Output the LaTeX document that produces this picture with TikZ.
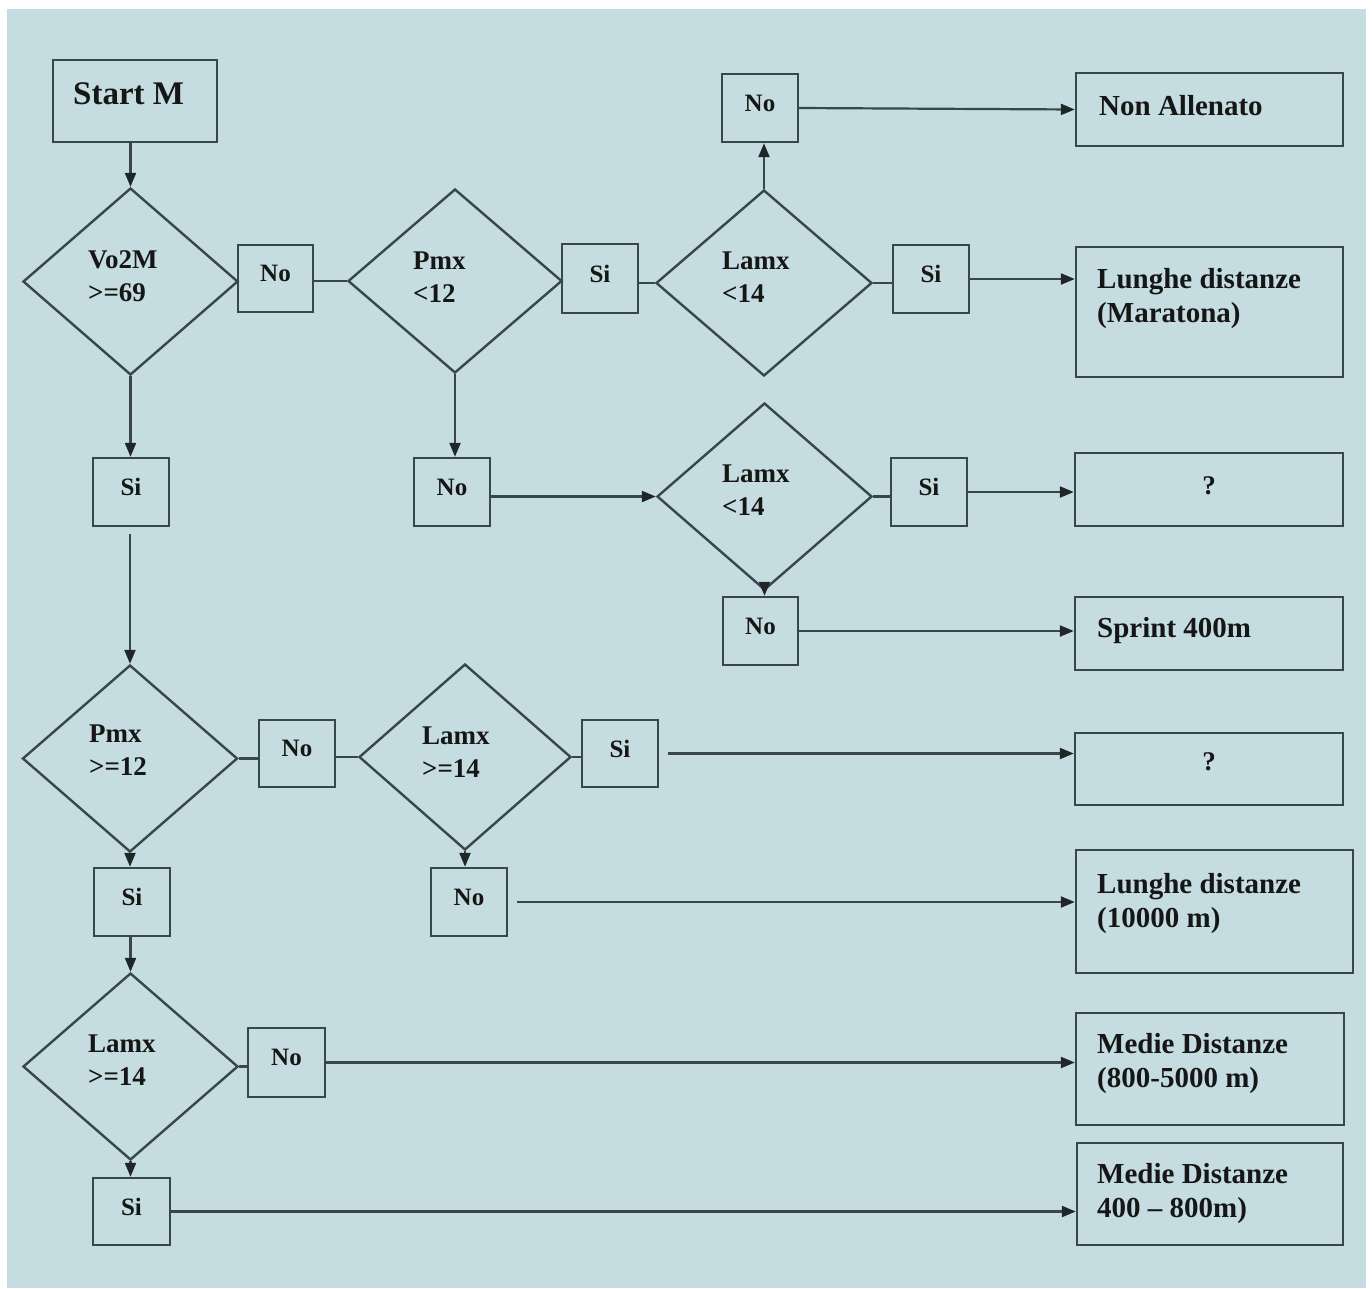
\documentclass[tikz,border=0pt]{standalone}
\usepackage{fontspec}
\setmainfont{Liberation Serif}
\usetikzlibrary{shapes.geometric,arrows.meta,calc}
\definecolor{bg}{HTML}{C5DDE0}
\definecolor{lc}{HTML}{37474D}
\definecolor{tc}{HTML}{161616}
\definecolor{ac}{HTML}{1E2628}
\begin{document}
\begin{tikzpicture}[x=1pt,y=-1pt,
 every node/.style={text=tc},
 sbox/.style={draw=lc, line width=2.4pt, rectangle, inner sep=0pt, minimum width=76pt, minimum height=68pt, font=\bfseries\fontsize{25}{30}\selectfont, text depth=10pt},
 rbox/.style={draw=lc, line width=2.4pt, rectangle, inner sep=0pt, minimum width=268pt},
 dia/.style={draw=lc, line width=2.4pt, diamond, inner sep=0pt, minimum width=215pt, minimum height=187pt},
 dtxt/.style={anchor=north west, inner sep=0pt, align=left, font=\bfseries\fontsize{27}{33}\selectfont},
 rtxt/.style={anchor=north west, inner sep=0pt, align=left, font=\bfseries\fontsize{29}{34}\selectfont},
 qtxt/.style={inner sep=0pt, font=\bfseries\fontsize{27}{32}\selectfont},
 conn/.style={draw=lc, line width=2.2pt},
 arr/.style={conn, -{Triangle[length=14pt,width=11pt,color=ac]}},
]
\fill[white] (0,0) rectangle (1372,1288);
\fill[bg] (7,9) rectangle (1366,1288);
\useasboundingbox (0,0) rectangle (1372,1288);

% start
\node[rbox, minimum width=164pt, minimum height=82pt] (start) at (135,101) {};
\node[rtxt, font=\bfseries\fontsize{33}{38}\selectfont] (tstart) at (73,82) {Start M};

% diamonds
\node[dia] (d1) at (130.5,281.5) {};
\node[dtxt] (t1) at (88,250) {Vo2M\\>=69};
\node[dia, minimum width=214pt, minimum height=184pt] (d2) at (455,281) {};
\node[dtxt] (t2) at (413,252) {Pmx\\<12};
\node[dia, minimum width=216pt, minimum height=186pt] (d3) at (764,283) {};
\node[dtxt] (t3) at (722,252) {Lamx\\<14};
\node[dia] (d4) at (764.5,496.5) {};
\node[dtxt] (t4) at (722,465) {Lamx\\<14};
\node[dia] (d5) at (130,758.5) {};
\node[dtxt] (t5) at (89,725) {Pmx\\>=12};
\node[dia, minimum width=212pt, minimum height=186pt] (d6) at (465,757) {};
\node[dtxt] (t6) at (422,727) {Lamx\\>=14};
\node[dia] (d7) at (130.5,1066.5) {};
\node[dtxt] (t7) at (88,1035) {Lamx\\>=14};

% small boxes
\node[sbox, minimum width=75pt, minimum height=67pt] (no1) at (275.5,278.5) {No};
\node[sbox, minimum height=69pt] (si2) at (600,278.5) {Si};
\node[sbox] (no3) at (760,108) {No};
\node[sbox] (si3) at (931,279) {Si};
\node[sbox] (sia) at (131,492) {Si};
\node[sbox] (nob) at (452,492) {No};
\node[sbox] (si4) at (929,492) {Si};
\node[sbox, minimum width=75pt] (no4) at (760.5,631) {No};
\node[sbox, minimum height=67pt] (no5) at (297,753.5) {No};
\node[sbox, minimum height=67pt] (si6) at (620,753.5) {Si};
\node[sbox] (si7) at (132,902) {Si};
\node[sbox] (no7) at (469,902) {No};
\node[sbox, minimum width=77pt, minimum height=69pt] (no8) at (286.5,1062.5) {No};
\node[sbox, minimum width=77pt, minimum height=67pt] (si9) at (131.5,1211.5) {Si};

% result boxes
\node[rbox, minimum width=267pt, minimum height=73pt] (rnon) at (1209.5,109.5) {};
\node[rtxt] (tnon) at (1099,95) {Non Allenato};
\node[rbox, minimum width=267pt, minimum height=130pt] (rmar) at (1209.5,312) {};
\node[rtxt] (tmar) at (1097,268) {Lunghe distanze\\(Maratona)};
\node[rbox, minimum height=73pt] (rq1) at (1209,489.5) {};
\node[qtxt] (tq1) at ($(rq1.center)+(0,-4)$) {?};
\node[rbox, minimum height=73pt] (rspr) at (1209,633.5) {};
\node[rtxt] (tspr) at (1097,617) {Sprint 400m};
\node[rbox, minimum height=72pt] (rq2) at (1209,769) {};
\node[qtxt] (tq2) at ($(rq2.center)+(0,-7)$) {?};
\node[rbox, minimum width=277pt, minimum height=123pt] (r10k) at (1214.5,911.5) {};
\node[rtxt] (t10k) at (1097,873) {Lunghe distanze\\(10000 m)};
\node[rbox, minimum height=112pt] (rmed1) at (1210,1069) {};
\node[rtxt] (tmed1) at (1097,1033) {Medie Distanze\\(800-5000 m)};
\node[rbox, minimum width=266pt, minimum height=102pt] (rmed2) at (1210,1194) {};
\node[rtxt] (tmed2) at (1097,1163) {Medie Distanze\\400 – 800m)};

% connectors
\draw[arr] (start.south -| d1.north) -- (d1.north);
\draw[conn] (d1.east) -- (d1.east -| no1.west);
\draw[conn] (d2.west -| no1.east) -- (d2.west);
\draw[conn] (d2.east) -- (d2.east -| si2.west);
\draw[conn] (d3.west -| si2.east) -- (d3.west);
\draw[conn] (d3.east) -- (d3.east -| si3.west);
\draw[arr] (si3.east) -- (si3.east -| rmar.west);
\draw[arr] (d3.north) -- (d3.north |- no3.south);
\draw[arr] (no3.east) -- (rnon.west);
\draw[arr] (d1.south) -- (d1.south |- sia.north);
\draw[arr, shorten <=7pt] (d5.north |- sia.south) -- (d5.north);
\draw[arr] (d2.south) -- (d2.south |- nob.north);
\draw[arr] (d4.west -| nob.east) -- (d4.west);
\draw[conn] (d4.east) -- (d4.east -| si4.west);
\draw[arr] (si4.east) -- (si4.east -| rq1.west);
\draw[arr] (d4.south) -- (d4.south |- no4.north);
\draw[arr] (no4.east) -- (no4.east -| rspr.west);
\draw[conn] (d5.east) -- (d5.east -| no5.west);
\draw[conn] (d6.west -| no5.east) -- (d6.west);
\draw[conn] (d6.east) -- (d6.east -| si6.west);
\draw[arr, shorten <=9pt] (si6.east) -- (si6.east -| rq2.west);
\draw[arr] (d5.south) -- (d5.south |- si7.north);
\draw[arr] (d6.south) -- (d6.south |- no7.north);
\draw[arr, shorten <=9pt] (no7.east) -- (no7.east -| r10k.west);
\draw[arr] (d7.north |- si7.south) -- (d7.north);
\draw[conn] (d7.east) -- (d7.east -| no8.west);
\draw[arr] (no8.east) -- (no8.east -| rmed1.west);
\draw[arr] (d7.south) -- (d7.south |- si9.north);
\draw[arr] (si9.east) -- (si9.east -| rmed2.west);
\end{tikzpicture}
\end{document}
